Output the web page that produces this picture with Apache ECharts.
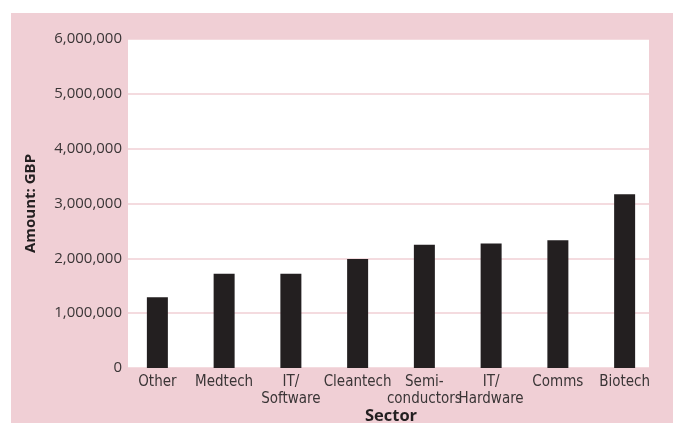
<!DOCTYPE html>
<html>
<head>
<meta charset="utf-8">
<script src="https://cdn.jsdelivr.net/npm/echarts@6/dist/echarts.min.js"></script>
<style>
  html, body { margin: 0; padding: 0; background: #ffffff; }
  #chart { width: 678px; height: 423px; }
</style>
</head>
<body>
<div id="chart"></div>
<script>
// Investment amount by sector (GBP)
const sectors = ['Other', 'Medtech', 'IT/\nSoftware', 'Cleantech', 'Semi-\nconductors', 'IT/\nHardware', 'Comms', 'Biotech'];
const amounts = [1290000, 1720000, 1720000, 1990000, 2250000, 2270000, 2330000, 3170000];
const yTicks = [0, 1000000, 2000000, 3000000, 4000000, 5000000, 6000000];

const PANEL = '#f0cfd5';
const INK = '#231f20';
const yMin = yTicks[0];
const yMax = yTicks[yTicks.length - 1];
const yStep = yTicks[1] - yTicks[0];

const chart = echarts.init(document.getElementById('chart'), null, { renderer: 'canvas' });

chart.setOption({
  backgroundColor: '#ffffff',
  animation: false,
  graphic: [{
    type: 'rect',
    z: -10,
    silent: true,
    shape: { x: 11, y: 13, width: 662, height: 410 },
    style: { fill: PANEL }
  }],
  grid: [
    // white plotting panel with value gridlines
    {
      left: 128, right: 29, top: 39, bottom: 55,
      outerBoundsMode: 'none', containLabel: false,
      show: true, backgroundColor: '#ffffff', borderWidth: 0
    },
    // category band for the bars, slightly wider than the panel
    {
      left: 124, right: 20, top: 39, bottom: 55,
      outerBoundsMode: 'none', containLabel: false
    }
  ],
  xAxis: [
    { type: 'category', gridIndex: 0, data: sectors, show: false },
    {
      type: 'category',
      gridIndex: 1,
      data: sectors,
      name: 'Sector',
      nameLocation: 'middle',
      nameGap: 40,
      nameMoveOverlap: false,
      nameTextStyle: { fontFamily: 'Open Sans', fontWeight: 'bold', fontSize: 16.5, color: INK },
      axisLine: { show: false },
      axisTick: { show: false },
      axisLabel: {
        interval: 0,
        margin: 6,
        fontFamily: 'DejaVu Sans Condensed',
        fontSize: 15,
        lineHeight: 17,
        color: '#3a3536'
      }
    }
  ],
  yAxis: [
    {
      type: 'value',
      gridIndex: 0,
      min: yMin, max: yMax, interval: yStep,
      name: 'Amount: GBP',
      nameLocation: 'middle',
      nameGap: 90,
      nameMoveOverlap: false,
      nameTextStyle: { fontFamily: 'Open Sans', fontWeight: 'bold', fontSize: 15, color: INK },
      axisLine: { show: false },
      axisTick: { show: false },
      axisLabel: {
        margin: 6,
        fontFamily: 'Open Sans',
        fontSize: 15,
        color: '#3a3536',
        formatter: v => v.toLocaleString('en-US')
      },
      splitLine: { lineStyle: { color: PANEL, width: 1.5 } }
    },
    {
      type: 'value',
      gridIndex: 1,
      min: yMin, max: yMax, interval: yStep,
      show: false,
      splitLine: { show: false }
    }
  ],
  series: [{
    type: 'bar',
    xAxisIndex: 1,
    yAxisIndex: 1,
    data: amounts,
    barWidth: 21,
    itemStyle: { color: INK }
  }]
});
</script>
</body>
</html>
